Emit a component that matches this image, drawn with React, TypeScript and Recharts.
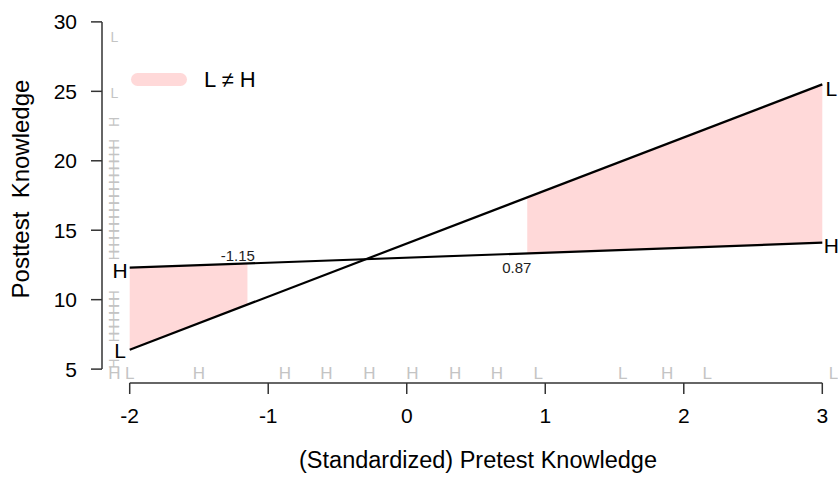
import React from "react";
import {
  ComposedChart,
  Line,
  Area,
  Scatter,
  XAxis,
  YAxis,
  ReferenceLine,
} from "recharts";

const FONT = "'Liberation Sans', Arial, sans-serif";
const PINK = "#FFD9D9";
const RUG = "#c4c4c4";

// axes
const xTicks = [-2, -1, 0, 1, 2, 3];
const yTicks = [5, 10, 15, 20, 25, 30];

// simple slopes of the two groups
const lowGroup = [
  { x: -2, y: 6.4 },
  { x: 3, y: 25.5 },
];
const highGroup = [
  { x: -2, y: 12.3 },
  { x: 3, y: 14.1 },
];

// regions of significance (L != H)
const leftRegion = [
  { x: -2, band: [6.4, 12.3] },
  { x: -1.15, band: [9.65, 12.6] },
];
const rightRegion = [
  { x: 0.87, band: [13.35, 17.35] },
  { x: 3, band: [14.1, 25.5] },
];

// labels
const endLabels = [
  { x: -2.07, y: 12.1, t: "H" },
  { x: -2.07, y: 6.35, t: "L" },
  { x: 3.065, y: 25.2, t: "L" },
  { x: 3.065, y: 13.9, t: "H" },
];
const cutLabels = [
  { x: -1.22, y: 13.2, t: "-1.15" },
  { x: 0.795, y: 12.35, t: "0.87" },
];

// rugs
const RUG_X = -2.11;
const RUG_Y = 4.7;
const rugLeftH = [
  22.8, 21.2, 20.7, 20.2, 19.7, 19.2, 18.7, 18.2, 17.7, 17.2, 16.7, 16.2,
  15.7, 15.2, 14.7, 14.2, 13.7, 13.2, 10.3, 9.8, 9.3, 8.8, 8.3, 7.8, 7.3,
  5.4,
];
const rugLeftL = [28.9, 24.9];
const rugBottomH = [-2.11, -1.5, -0.88, -0.58, -0.27, 0.04, 0.35, 0.65, 1.88];
const rugBottomL = [-2.0, 0.95, 1.56, 2.17, 3.08];

const leftRug = [
  ...rugLeftH.map((v) => ({ x: RUG_X, y: v, t: "H", rot: true })),
  ...rugLeftL.map((v) => ({ x: RUG_X, y: v, t: "L", rot: false })),
];
const bottomRug = [
  ...rugBottomH.map((v) => ({ x: v, y: RUG_Y, t: "H", rot: false })),
  ...rugBottomL.map((v) => ({ x: v, y: RUG_Y, t: "L", rot: false })),
];

const makeText =
  (size: number, color: string) =>
  (props: any) => {
    const { cx, cy, payload } = props;
    return (
      <text
        x={cx}
        y={cy}
        textAnchor="middle"
        dominantBaseline="central"
        fontSize={size}
        fontFamily={FONT}
        fill={color}
        transform={payload.rot ? `rotate(-90 ${cx} ${cy})` : undefined}
      >
        {payload.t}
      </text>
    );
  };

export default function App() {
  return (
    <div
      style={{
        position: "absolute",
        left: 0,
        top: 0,
        width: 838,
        height: 477,
        overflow: "hidden",
        background: "#fff",
      }}
    >
      <ComposedChart
        width={850}
        height={477}
        margin={{ top: 8, right: 0, left: 0, bottom: 0 }}
      >
        <XAxis
          type="number"
          dataKey="x"
          domain={[-2.2, 3.2]}
          ticks={xTicks}
          allowDataOverflow
          height={94}
          axisLine={false}
          tickSize={11}
          tickMargin={14}
          tickLine={{ stroke: "#333", strokeWidth: 1.5 }}
          tick={{ fontSize: 21, fill: "#000", fontFamily: FONT }}
          label={{
            content: ({ viewBox }: any) => (
              <text
                x={viewBox.x + viewBox.width / 2 + 2}
                y={468}
                textAnchor="middle"
                fontSize={23.5}
                fontFamily={FONT}
                fill="#000"
              >
                (Standardized) Pretest Knowledge
              </text>
            ),
          }}
        />
        <YAxis
          type="number"
          dataKey="y"
          domain={[4, 31]}
          ticks={yTicks}
          allowDataOverflow
          width={102}
          axisLine={false}
          tickSize={11}
          tickMargin={14}
          tickLine={{ stroke: "#333", strokeWidth: 1.5 }}
          tick={{ fontSize: 21, fill: "#000", fontFamily: FONT }}
          label={{
            content: () => (
              <text
                x={29}
                y={189}
                textAnchor="middle"
                fontSize={24}
                fontFamily={FONT}
                fill="#000"
                transform="rotate(-90 29 189)"
              >
                {"Posttest\u00a0\u00a0Knowledge"}
              </text>
            ),
          }}
        />

        <ReferenceLine
          segment={[
            { x: -2, y: 4 },
            { x: 3, y: 4 },
          ]}
          stroke="#333"
          strokeWidth={1.5}
          ifOverflow="visible"
        />
        <ReferenceLine
          segment={[
            { x: -2.2, y: 5 },
            { x: -2.2, y: 30 },
          ]}
          stroke="#333"
          strokeWidth={1.5}
          ifOverflow="visible"
        />

        <Area
          data={leftRegion}
          dataKey="band"
          type="linear"
          stroke="none"
          fill={PINK}
          fillOpacity={1}
          isAnimationActive={false}
        />
        <Area
          data={rightRegion}
          dataKey="band"
          type="linear"
          stroke="none"
          fill={PINK}
          fillOpacity={1}
          isAnimationActive={false}
        />

        <Scatter
          data={leftRug}
          shape={makeText(14, RUG)}
          isAnimationActive={false}
        />
        <Scatter
          data={bottomRug}
          shape={makeText(17, RUG)}
          isAnimationActive={false}
        />

        <Line
          data={lowGroup}
          dataKey="y"
          type="linear"
          stroke="#000"
          strokeWidth={2.2}
          dot={false}
          activeDot={false}
          isAnimationActive={false}
        />
        <Line
          data={highGroup}
          dataKey="y"
          type="linear"
          stroke="#000"
          strokeWidth={2.2}
          dot={false}
          activeDot={false}
          isAnimationActive={false}
        />

        <Scatter
          data={endLabels}
          shape={makeText(21, "#000")}
          isAnimationActive={false}
        />
        <Scatter
          data={cutLabels}
          shape={makeText(15, "#222")}
          isAnimationActive={false}
        />
      </ComposedChart>

      <div
        style={{
          position: "absolute",
          left: 131,
          top: 73,
          width: 56,
          height: 13,
          borderRadius: 7,
          background: PINK,
        }}
      />
      <div
        style={{
          position: "absolute",
          left: 204,
          top: 67,
          fontSize: 22,
          lineHeight: "26px",
          fontFamily: FONT,
          color: "#000",
          whiteSpace: "pre",
        }}
      >
        {"L \u2260 H"}
      </div>
    </div>
  );
}
